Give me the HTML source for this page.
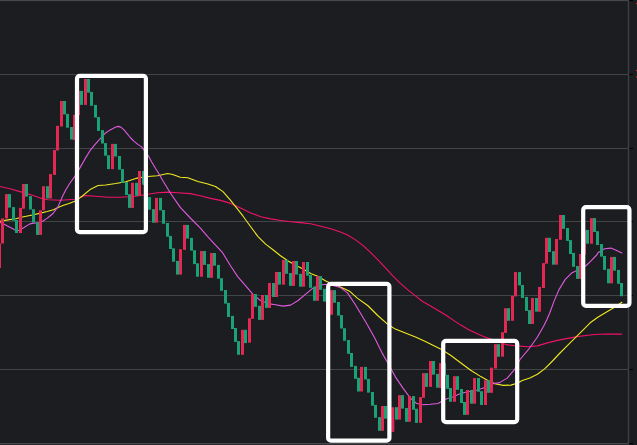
<!DOCTYPE html>
<html><head><meta charset="utf-8"><title>chart</title>
<style>html,body{margin:0;padding:0;background:#1c1d21;font-family:"Liberation Sans",sans-serif;}svg{display:block}</style></head><body>
<svg width="637" height="445" viewBox="0 0 637 445">
<rect x="0" y="0" width="637" height="445" fill="#1c1d21"/>
<rect x="0" y="0" width="629" height="1.1" fill="#46474b"/>
<rect x="0" y="443" width="629" height="1.4" fill="#46474b"/>
<rect x="0" y="74" width="628" height="1" fill="#434448"/>
<rect x="0" y="148" width="628" height="1" fill="#434448"/>
<rect x="0" y="221" width="628" height="1" fill="#434448"/>
<rect x="0" y="295" width="628" height="1" fill="#434448"/>
<rect x="0" y="369" width="628" height="1" fill="#434448"/>
<rect x="629.2" y="0.00" width="3.8" height="1.2" fill="#000"/>
<rect x="629.2" y="73.90" width="3.8" height="1.2" fill="#000"/>
<rect x="629.2" y="147.90" width="3.8" height="1.2" fill="#000"/>
<rect x="629.2" y="220.90" width="3.8" height="1.2" fill="#000"/>
<rect x="629.2" y="294.90" width="3.8" height="1.2" fill="#000"/>
<rect x="629.2" y="368.90" width="3.8" height="1.2" fill="#000"/>
<rect x="629.2" y="443.00" width="3.8" height="1.2" fill="#000"/>
<rect x="627.8" y="0" width="1.4" height="444" fill="#3e3f43"/>
<rect x="636" y="2.8" width="1" height="1.4" fill="#b03040"/>
<rect x="636" y="69.8" width="1" height="1.4" fill="#b03040"/>
<rect x="636" y="76.3" width="1" height="1.4" fill="#b03040"/>
<path d="M0.0,186.5 L10.1,188.7 L20.1,191.6 L30.2,194.6 L40.3,198.1 L47.8,199.8 L60.4,200.2 L75.5,199.3 L85.5,195.6 L95.6,196.3 L108.2,197.3 L120.8,197.3 L135.8,196.3 L147.5,194.2 L157.6,192.8 L167.7,192.1 L177.7,192.8 L190.3,193.6 L200.4,195.8 L210.4,198.4 L220.5,200.4 L230.6,203.4 L240.6,207.9 L250.7,213.0 L260.8,216.7 L270.8,218.9 L280.9,220.5 L290.9,221.8 L300.6,222.6 L310.7,223.8 L320.8,226.3 L330.8,228.8 L340.5,232.1 L347.5,235.0 L355.1,239.6 L362.6,245.1 L370.2,252.1 L377.7,259.7 L385.3,267.7 L392.8,275.8 L400.4,283.3 L407.9,289.9 L415.5,295.9 L423.0,301.7 L430.6,306.0 L438.1,310.5 L445.7,315.0 L453.2,320.1 L460.8,325.1 L468.3,329.4 L475.8,333.1 L483.4,336.4 L490.9,339.0 L500.5,342.5 L507.2,344.9 L517.3,345.9 L527.3,346.7 L537.4,345.9 L547.4,342.9 L557.5,340.4 L567.6,338.4 L577.6,336.6 L587.7,335.3 L597.8,334.3 L607.8,334.1 L621.7,334.1" fill="none" stroke="#f01268" stroke-width="1.1" stroke-linejoin="round" stroke-linecap="round"/>
<path d="M0.0,221.3 L7.9,219.9 L15.7,218.8 L23.6,216.8 L31.4,215.2 L39.3,213.4 L47.2,211.5 L53.5,209.8 L59.7,206.8 L62.9,205.6 L69.0,203.5 L75.5,201.1 L83.0,195.5 L90.6,189.2 L98.1,185.5 L105.7,185.0 L115.7,183.5 L125.8,181.7 L135.8,178.4 L147.5,176.5 L157.6,175.7 L167.7,173.5 L172.7,174.5 L180.3,177.2 L187.8,177.7 L197.9,181.5 L207.9,184.0 L215.5,186.5 L223.0,191.6 L230.6,200.4 L235.6,206.7 L243.1,216.2 L250.5,226.5 L258.0,236.6 L265.6,244.1 L273.0,249.8 L280.5,255.8 L288.1,261.0 L295.6,265.3 L303.1,269.1 L310.7,273.4 L318.2,276.6 L325.8,280.9 L333.3,284.2 L340.5,287.0 L350.1,291.6 L357.6,298.4 L367.7,305.5 L377.7,315.5 L387.8,324.3 L395.3,329.1 L405.4,333.1 L415.5,336.9 L424.3,340.9 L430.4,343.9 L440.5,348.9 L450.6,355.2 L460.6,362.7 L470.7,370.3 L480.8,376.6 L488.3,380.7 L495.8,384.0 L503.4,385.4 L510.9,385.1 L517.0,383.2 L522.3,380.6 L529.8,378.1 L537.4,374.3 L544.9,368.6 L552.5,361.0 L560.0,353.0 L567.6,345.4 L575.1,337.9 L582.7,330.3 L590.2,322.8 L597.8,317.2 L605.3,312.7 L612.9,308.2 L621.9,302.2" fill="none" stroke="#f0e822" stroke-width="1.1" stroke-linejoin="round" stroke-linecap="round"/>
<path d="M0.0,222.4 L4.7,224.6 L9.4,227.0 L15.7,230.2 L18.9,230.5 L23.6,227.8 L29.9,223.9 L33.8,223.1 L37.7,223.0 L41.5,222.0 L47.0,218.4 L50.3,215.7 L53.0,213.5 L57.9,206.9 L62.9,195.5 L66.0,189.5 L69.2,184.2 L75.5,175.4 L80.5,166.9 L85.0,158.9 L90.0,150.7 L95.1,144.4 L100.7,138.1 L105.1,133.3 L110.2,129.9 L115.2,127.2 L118.3,126.4 L120.8,127.1 L124.0,129.9 L127.1,133.7 L130.3,137.5 L134.1,141.3 L137.8,144.4 L141.6,146.9 L144.1,150.1 L147.9,155.1 L151.7,162.0 L155.4,168.3 L158.6,173.3 L162.6,180.3 L170.2,192.8 L180.3,207.4 L190.3,218.0 L200.4,228.1 L207.7,236.6 L215.3,244.8 L222.6,252.7 L230.2,265.3 L237.7,276.6 L245.3,285.4 L252.8,294.2 L260.4,300.5 L267.9,303.6 L275.5,304.8 L283.0,306.1 L290.6,305.1 L298.1,300.5 L305.7,294.2 L313.2,287.9 L320.8,284.7 L328.3,284.2 L335.8,286.2 L340.0,287.4 L347.5,292.9 L355.1,304.2 L362.6,316.8 L367.5,325.0 L375.1,338.8 L382.6,353.9 L387.7,362.7 L395.2,376.6 L402.8,387.9 L410.3,398.0 L416.6,403.5 L422.9,404.7 L430.4,404.2 L438.0,403.5 L445.5,399.2 L453.1,396.7 L460.6,393.4 L468.2,391.7 L475.7,390.4 L483.3,387.9 L490.8,384.1 L499.6,382.6 L507.2,378.1 L514.7,369.3 L520.0,359.5 L529.4,348.3 L537.3,337.3 L543.6,326.3 L546.7,320.0 L549.6,313.2 L554.3,300.6 L559.0,289.6 L565.3,279.4 L571.6,273.1 L576.3,270.7 L585.7,266.0 L590.5,261.3 L596.7,255.0 L598.3,252.4 L604.6,248.8 L610.9,248.1 L615.6,250.0 L621.9,252.9" fill="none" stroke="#e05ae0" stroke-width="1.1" stroke-linejoin="round" stroke-linecap="round"/>
<rect x="-2" y="243.5" width="3" height="24.5" fill="#e32853"/>
<rect x="1" y="218.4" width="3" height="25.1" fill="#e32853"/>
<rect x="5" y="194.1" width="3" height="24.3" fill="#e32853"/>
<rect x="8" y="194.1" width="3" height="13.5" fill="#1aa276"/>
<rect x="12" y="207.1" width="3" height="13.6" fill="#1aa276"/>
<rect x="15" y="220" width="3" height="13.0" fill="#1aa276"/>
<rect x="19" y="207.9" width="3" height="25.1" fill="#e32853"/>
<rect x="22" y="184" width="3" height="24.7" fill="#e32853"/>
<rect x="25" y="184" width="3" height="12.6" fill="#1aa276"/>
<rect x="29" y="196.1" width="3" height="13.4" fill="#1aa276"/>
<rect x="32" y="209.2" width="3" height="13.4" fill="#1aa276"/>
<rect x="36" y="222.3" width="3" height="12.6" fill="#1aa276"/>
<rect x="39" y="210.3" width="3" height="24.6" fill="#e32853"/>
<rect x="42" y="186.2" width="3" height="24.1" fill="#e32853"/>
<rect x="46" y="186.2" width="3" height="12.3" fill="#1aa276"/>
<rect x="49" y="174.1" width="3" height="24.4" fill="#e32853"/>
<rect x="53" y="150" width="3" height="24.9" fill="#e32853"/>
<rect x="56" y="125.8" width="3" height="24.7" fill="#e32853"/>
<rect x="60" y="101" width="3" height="25.5" fill="#e32853"/>
<rect x="63" y="101" width="3" height="13.4" fill="#1aa276"/>
<rect x="66" y="113.9" width="3" height="13.8" fill="#1aa276"/>
<rect x="70" y="127" width="3" height="12.5" fill="#1aa276"/>
<rect x="73" y="114.8" width="3" height="25.2" fill="#e32853"/>
<rect x="77" y="90.9" width="3" height="24.3" fill="#e32853"/>
<rect x="80" y="90.9" width="3" height="14.0" fill="#1aa276"/>
<rect x="84" y="79" width="3" height="25.9" fill="#e32853"/>
<rect x="87" y="79" width="3" height="13.6" fill="#1aa276"/>
<rect x="90" y="91.9" width="3" height="13.9" fill="#1aa276"/>
<rect x="94" y="104.9" width="3" height="12.6" fill="#1aa276"/>
<rect x="97" y="117" width="3" height="13.9" fill="#1aa276"/>
<rect x="101" y="130.1" width="3" height="13.4" fill="#1aa276"/>
<rect x="104" y="143.1" width="3" height="12.6" fill="#1aa276"/>
<rect x="107" y="155.3" width="3" height="13.8" fill="#1aa276"/>
<rect x="111" y="143.9" width="3" height="25.2" fill="#e32853"/>
<rect x="114" y="143.9" width="3" height="12.6" fill="#1aa276"/>
<rect x="118" y="156" width="3" height="13.6" fill="#1aa276"/>
<rect x="121" y="169.1" width="3" height="13.7" fill="#1aa276"/>
<rect x="125" y="182.1" width="3" height="12.9" fill="#1aa276"/>
<rect x="128" y="194.2" width="3" height="13.7" fill="#1aa276"/>
<rect x="131" y="182.8" width="3" height="25.1" fill="#e32853"/>
<rect x="135" y="182.8" width="3" height="13.0" fill="#1aa276"/>
<rect x="138" y="171" width="3" height="24.8" fill="#e32853"/>
<rect x="142" y="171" width="3" height="13.8" fill="#1aa276"/>
<rect x="145" y="184.3" width="3" height="13.1" fill="#1aa276"/>
<rect x="148" y="197.1" width="3" height="12.6" fill="#1aa276"/>
<rect x="152" y="209.2" width="3" height="13.5" fill="#1aa276"/>
<rect x="155" y="197.9" width="3" height="24.8" fill="#e32853"/>
<rect x="159" y="197.9" width="3" height="12.5" fill="#1aa276"/>
<rect x="162" y="210" width="3" height="13.8" fill="#1aa276"/>
<rect x="166" y="223" width="3" height="13.7" fill="#1aa276"/>
<rect x="169" y="235.9" width="3" height="13.1" fill="#1aa276"/>
<rect x="172" y="248.3" width="3" height="13.4" fill="#1aa276"/>
<rect x="176" y="260.9" width="3" height="13.7" fill="#1aa276"/>
<rect x="179" y="249.2" width="3" height="25.4" fill="#e32853"/>
<rect x="183" y="224.9" width="3" height="24.9" fill="#e32853"/>
<rect x="186" y="224.9" width="3" height="13.7" fill="#1aa276"/>
<rect x="190" y="237.9" width="3" height="12.7" fill="#1aa276"/>
<rect x="193" y="250.2" width="3" height="13.9" fill="#1aa276"/>
<rect x="196" y="263.3" width="3" height="13.4" fill="#1aa276"/>
<rect x="200" y="251" width="3" height="25.7" fill="#e32853"/>
<rect x="203" y="251" width="3" height="13.9" fill="#1aa276"/>
<rect x="207" y="264.1" width="3" height="13.7" fill="#1aa276"/>
<rect x="210" y="253" width="3" height="24.8" fill="#e32853"/>
<rect x="213" y="253" width="3" height="12.7" fill="#1aa276"/>
<rect x="217" y="264.9" width="3" height="13.8" fill="#1aa276"/>
<rect x="220" y="278.2" width="3" height="12.6" fill="#1aa276"/>
<rect x="224" y="290" width="3" height="13.6" fill="#1aa276"/>
<rect x="227" y="302.9" width="3" height="14.1" fill="#1aa276"/>
<rect x="231" y="315.9" width="3" height="13.1" fill="#1aa276"/>
<rect x="234" y="328" width="3" height="13.9" fill="#1aa276"/>
<rect x="237" y="341.1" width="3" height="13.7" fill="#1aa276"/>
<rect x="241" y="329.8" width="3" height="25.0" fill="#e32853"/>
<rect x="244" y="329.8" width="3" height="13.3" fill="#1aa276"/>
<rect x="248" y="318.3" width="3" height="24.4" fill="#e32853"/>
<rect x="251" y="294" width="3" height="24.8" fill="#e32853"/>
<rect x="254" y="294" width="3" height="12.8" fill="#1aa276"/>
<rect x="258" y="305.8" width="3" height="14.1" fill="#1aa276"/>
<rect x="261" y="295" width="3" height="24.9" fill="#e32853"/>
<rect x="265" y="295" width="3" height="12.9" fill="#1aa276"/>
<rect x="268" y="283" width="3" height="24.9" fill="#e32853"/>
<rect x="272" y="283" width="3" height="14.0" fill="#1aa276"/>
<rect x="275" y="272" width="3" height="25.0" fill="#e32853"/>
<rect x="278" y="272" width="3" height="12.6" fill="#1aa276"/>
<rect x="282" y="259.9" width="3" height="24.7" fill="#e32853"/>
<rect x="285" y="259.9" width="3" height="13.9" fill="#1aa276"/>
<rect x="289" y="273" width="3" height="12.9" fill="#1aa276"/>
<rect x="292" y="261" width="3" height="24.9" fill="#e32853"/>
<rect x="295" y="261" width="3" height="13.6" fill="#1aa276"/>
<rect x="299" y="273.8" width="3" height="12.9" fill="#1aa276"/>
<rect x="302" y="262" width="3" height="24.7" fill="#e32853"/>
<rect x="306" y="262" width="3" height="13.7" fill="#1aa276"/>
<rect x="309" y="274.9" width="3" height="12.9" fill="#1aa276"/>
<rect x="313" y="286.7" width="3" height="14.1" fill="#1aa276"/>
<rect x="316" y="276.1" width="3" height="24.7" fill="#e32853"/>
<rect x="319" y="276.1" width="3" height="13.7" fill="#1aa276"/>
<rect x="323" y="288.8" width="3" height="12.8" fill="#1aa276"/>
<rect x="327" y="301.4" width="3" height="13.2" fill="#1aa276"/>
<rect x="330" y="290.1" width="3" height="24.7" fill="#e32853"/>
<rect x="333" y="290.1" width="3" height="12.7" fill="#1aa276"/>
<rect x="337" y="302" width="3" height="13.6" fill="#1aa276"/>
<rect x="340" y="315.1" width="3" height="13.4" fill="#1aa276"/>
<rect x="343" y="328.2" width="3" height="12.6" fill="#1aa276"/>
<rect x="347" y="340" width="3" height="13.8" fill="#1aa276"/>
<rect x="350" y="353" width="3" height="13.9" fill="#1aa276"/>
<rect x="354" y="365.9" width="3" height="12.9" fill="#1aa276"/>
<rect x="357" y="377.8" width="3" height="13.7" fill="#1aa276"/>
<rect x="360" y="366.9" width="3" height="24.6" fill="#e32853"/>
<rect x="364" y="366.9" width="3" height="12.6" fill="#1aa276"/>
<rect x="367" y="378.9" width="3" height="13.7" fill="#1aa276"/>
<rect x="371" y="392" width="3" height="13.7" fill="#1aa276"/>
<rect x="374" y="404.9" width="3" height="12.9" fill="#1aa276"/>
<rect x="378" y="417.1" width="3" height="13.7" fill="#1aa276"/>
<rect x="381" y="406" width="3" height="24.8" fill="#e32853"/>
<rect x="384" y="406" width="3" height="12.7" fill="#1aa276"/>
<rect x="388" y="418.7" width="3" height="13.2" fill="#1aa276"/>
<rect x="391.3" y="407.2" width="3" height="24.7" fill="#e32853"/>
<rect x="395" y="407.2" width="3" height="12.4" fill="#1aa276"/>
<rect x="398" y="395.1" width="3" height="24.5" fill="#e32853"/>
<rect x="401" y="395.1" width="3" height="13.5" fill="#1aa276"/>
<rect x="405" y="408" width="3" height="13.8" fill="#1aa276"/>
<rect x="408" y="396" width="3" height="25.8" fill="#e32853"/>
<rect x="412" y="396" width="3" height="13.7" fill="#1aa276"/>
<rect x="415" y="408.8" width="3" height="14.1" fill="#1aa276"/>
<rect x="419" y="397.1" width="3" height="25.8" fill="#e32853"/>
<rect x="422" y="373.1" width="3" height="24.7" fill="#e32853"/>
<rect x="425" y="373.1" width="3" height="13.8" fill="#1aa276"/>
<rect x="429" y="361" width="3" height="25.9" fill="#e32853"/>
<rect x="432" y="361" width="3" height="13.7" fill="#1aa276"/>
<rect x="436" y="373.9" width="3" height="13.8" fill="#1aa276"/>
<rect x="439" y="363.1" width="3" height="24.9" fill="#e32853"/>
<rect x="443" y="363.1" width="3" height="12.4" fill="#1aa276"/>
<rect x="446" y="374.8" width="3" height="14.0" fill="#1aa276"/>
<rect x="449" y="388" width="3" height="13.8" fill="#1aa276"/>
<rect x="453" y="376.2" width="3" height="25.6" fill="#e32853"/>
<rect x="456" y="376.2" width="3" height="13.6" fill="#1aa276"/>
<rect x="460" y="389" width="3" height="14.0" fill="#1aa276"/>
<rect x="463" y="402" width="3" height="12.9" fill="#1aa276"/>
<rect x="466" y="390" width="3" height="24.9" fill="#e32853"/>
<rect x="470" y="390" width="3" height="13.7" fill="#1aa276"/>
<rect x="473" y="378" width="3" height="25.7" fill="#e32853"/>
<rect x="477" y="378" width="3" height="13.8" fill="#1aa276"/>
<rect x="480" y="391.2" width="3" height="13.8" fill="#1aa276"/>
<rect x="484" y="380.2" width="3" height="24.8" fill="#e32853"/>
<rect x="487" y="380.2" width="3" height="12.6" fill="#1aa276"/>
<rect x="490" y="367.7" width="3" height="25.1" fill="#e32853"/>
<rect x="494" y="344.2" width="3" height="24.3" fill="#e32853"/>
<rect x="497" y="344.2" width="3" height="12.5" fill="#1aa276"/>
<rect x="501" y="332.2" width="3" height="24.5" fill="#e32853"/>
<rect x="504" y="308.2" width="3" height="24.7" fill="#e32853"/>
<rect x="507" y="308.2" width="3" height="12.6" fill="#1aa276"/>
<rect x="511" y="296" width="3" height="24.8" fill="#e32853"/>
<rect x="514" y="272.1" width="3" height="24.3" fill="#e32853"/>
<rect x="518" y="272.1" width="3" height="13.3" fill="#1aa276"/>
<rect x="521" y="285" width="3" height="13.0" fill="#1aa276"/>
<rect x="525" y="296.9" width="3" height="14.0" fill="#1aa276"/>
<rect x="528" y="310.1" width="3" height="13.9" fill="#1aa276"/>
<rect x="531" y="298" width="3" height="26.0" fill="#e32853"/>
<rect x="535" y="298" width="3" height="13.7" fill="#1aa276"/>
<rect x="538" y="287" width="3" height="24.7" fill="#e32853"/>
<rect x="542" y="263.1" width="3" height="24.9" fill="#e32853"/>
<rect x="545" y="237.8" width="3" height="25.9" fill="#e32853"/>
<rect x="548" y="237.8" width="3" height="14.2" fill="#1aa276"/>
<rect x="552" y="251.2" width="3" height="13.5" fill="#1aa276"/>
<rect x="555" y="239" width="3" height="25.7" fill="#e32853"/>
<rect x="559" y="215" width="3" height="24.8" fill="#e32853"/>
<rect x="562" y="215" width="3" height="13.8" fill="#1aa276"/>
<rect x="566" y="228" width="3" height="12.9" fill="#1aa276"/>
<rect x="569" y="240.1" width="3" height="13.9" fill="#1aa276"/>
<rect x="572" y="252.9" width="3" height="13.9" fill="#1aa276"/>
<rect x="576" y="266" width="3" height="12.9" fill="#1aa276"/>
<rect x="579" y="254" width="3" height="24.9" fill="#e32853"/>
<rect x="583" y="230.4" width="3" height="24.3" fill="#e32853"/>
<rect x="586" y="229.9" width="3" height="13.8" fill="#1aa276"/>
<rect x="590" y="218.1" width="3" height="25.6" fill="#e32853"/>
<rect x="593" y="218.1" width="3" height="13.9" fill="#1aa276"/>
<rect x="596" y="231.2" width="3" height="13.8" fill="#1aa276"/>
<rect x="600" y="244.1" width="3" height="12.5" fill="#1aa276"/>
<rect x="603" y="256" width="3" height="13.9" fill="#1aa276"/>
<rect x="607" y="268.8" width="3" height="14.5" fill="#1aa276"/>
<rect x="610" y="256.9" width="3" height="26.4" fill="#e32853"/>
<rect x="613" y="256.9" width="3" height="13.8" fill="#1aa276"/>
<rect x="617" y="269.9" width="3" height="13.9" fill="#1aa276"/>
<rect x="620" y="283" width="3" height="13.2" fill="#1aa276"/>
<rect x="77.00" y="75.90" width="68.90" height="156.20" rx="2.8" ry="2.8" fill="none" stroke="#fff" stroke-width="4.2"/>
<rect x="328.15" y="283.85" width="61.25" height="156.85" rx="2.8" ry="2.8" fill="none" stroke="#fff" stroke-width="4.2"/>
<rect x="443.20" y="340.95" width="74.00" height="81.15" rx="2.8" ry="2.8" fill="none" stroke="#fff" stroke-width="4.2"/>
<rect x="583.20" y="207.15" width="46.25" height="98.65" rx="2.8" ry="2.8" fill="none" stroke="#fff" stroke-width="4.2"/>
</svg></body></html>
